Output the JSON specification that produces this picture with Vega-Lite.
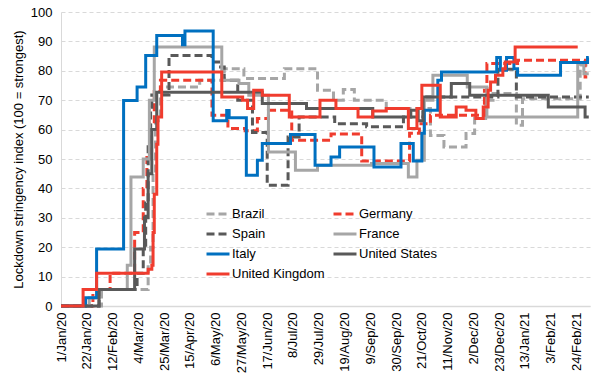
{
"$schema": "https://vega.github.io/schema/vega-lite/v6.json",
"width": 529, "height": 294,
"autosize": "none",
"padding": {"left": 61, "top": 12, "right": 10, "bottom": 85},
"background": "white",
"config": {"view": {"stroke": null}, "font": "Liberation Sans"},
"data": {"values": [
{"c":"Brazil","d":"2020-01-01","v":0},{"c":"Brazil","d":"2020-02-03","v":5.6},{"c":"Brazil","d":"2020-03-12","v":13.9},{"c":"Brazil","d":"2020-03-14","v":20},{"c":"Brazil","d":"2020-03-16","v":45},{"c":"Brazil","d":"2020-03-18","v":63},{"c":"Brazil","d":"2020-03-22","v":74.5},{"c":"Brazil","d":"2020-04-23","v":76.8},{"c":"Brazil","d":"2020-05-13","v":80.7},{"c":"Brazil","d":"2020-05-29","v":77.4},{"c":"Brazil","d":"2020-07-01","v":80.7},{"c":"Brazil","d":"2020-07-28","v":73.4},{"c":"Brazil","d":"2020-08-10","v":70},{"c":"Brazil","d":"2020-08-18","v":73.6},{"c":"Brazil","d":"2020-08-27","v":70},{"c":"Brazil","d":"2020-09-22","v":67.2},{"c":"Brazil","d":"2020-10-28","v":58},{"c":"Brazil","d":"2020-11-08","v":54.1},{"c":"Brazil","d":"2020-11-26","v":58.7},{"c":"Brazil","d":"2020-12-03","v":63.8},{"c":"Brazil","d":"2020-12-12","v":70},{"c":"Brazil","d":"2020-12-18","v":72.3},{"c":"Brazil","d":"2021-01-06","v":61.5},{"c":"Brazil","d":"2021-01-11","v":70.5},{"c":"Brazil","d":"2021-02-27","v":82},{"c":"Brazil","d":"2021-03-06","v":82},
{"c":"Germany","d":"2020-01-01","v":0},{"c":"Germany","d":"2020-01-27","v":5.6},{"c":"Germany","d":"2020-02-10","v":11.1},{"c":"Germany","d":"2020-03-01","v":25},{"c":"Germany","d":"2020-03-08","v":40},{"c":"Germany","d":"2020-03-11","v":52},{"c":"Germany","d":"2020-03-14","v":62},{"c":"Germany","d":"2020-03-17","v":73},{"c":"Germany","d":"2020-03-22","v":76.8},{"c":"Germany","d":"2020-05-03","v":64.9},{"c":"Germany","d":"2020-05-16","v":60.4},{"c":"Germany","d":"2020-05-30","v":59.6},{"c":"Germany","d":"2020-06-09","v":63.8},{"c":"Germany","d":"2020-06-18","v":66.6},{"c":"Germany","d":"2020-07-07","v":56.4},{"c":"Germany","d":"2020-08-08","v":58.5},{"c":"Germany","d":"2020-09-02","v":49.3},{"c":"Germany","d":"2020-10-11","v":58.8},{"c":"Germany","d":"2020-10-19","v":62},{"c":"Germany","d":"2020-10-28","v":64.9},{"c":"Germany","d":"2020-12-11","v":73.4},{"c":"Germany","d":"2020-12-13","v":82.5},{"c":"Germany","d":"2021-01-07","v":83.6},{"c":"Germany","d":"2021-03-03","v":77.9},{"c":"Germany","d":"2021-03-06","v":77.9},
{"c":"Spain","d":"2020-01-01","v":0},{"c":"Spain","d":"2020-02-01","v":5.6},{"c":"Spain","d":"2020-03-03","v":11.1},{"c":"Spain","d":"2020-03-08","v":20},{"c":"Spain","d":"2020-03-10","v":35},{"c":"Spain","d":"2020-03-12","v":55},{"c":"Spain","d":"2020-03-14","v":67.6},{"c":"Spain","d":"2020-03-15","v":71.8},{"c":"Spain","d":"2020-03-29","v":85.2},{"c":"Spain","d":"2020-05-03","v":83},{"c":"Spain","d":"2020-05-10","v":81.3},{"c":"Spain","d":"2020-05-13","v":76.8},{"c":"Spain","d":"2020-05-24","v":70},{"c":"Spain","d":"2020-06-05","v":59},{"c":"Spain","d":"2020-06-17","v":41.1},{"c":"Spain","d":"2020-07-04","v":57.5},{"c":"Spain","d":"2020-07-13","v":64.3},{"c":"Spain","d":"2020-08-11","v":62},{"c":"Spain","d":"2020-09-06","v":61},{"c":"Spain","d":"2020-10-06","v":64.3},{"c":"Spain","d":"2020-10-22","v":71.1},{"c":"Spain","d":"2020-12-22","v":80.5},{"c":"Spain","d":"2021-01-06","v":71.1},{"c":"Spain","d":"2021-03-06","v":71.1},
{"c":"France","d":"2020-01-01","v":0},{"c":"France","d":"2020-01-24","v":2.8},{"c":"France","d":"2020-02-01","v":5.6},{"c":"France","d":"2020-02-24","v":13.9},{"c":"France","d":"2020-02-27","v":43.9},{"c":"France","d":"2020-03-08","v":50},{"c":"France","d":"2020-03-13","v":70},{"c":"France","d":"2020-03-17","v":88.1},{"c":"France","d":"2020-05-11","v":76.8},{"c":"France","d":"2020-05-25","v":75.7},{"c":"France","d":"2020-06-02","v":71.7},{"c":"France","d":"2020-06-18","v":52.4},{"c":"France","d":"2020-07-10","v":46.2},{"c":"France","d":"2020-07-28","v":47.9},{"c":"France","d":"2020-09-10","v":48.5},{"c":"France","d":"2020-10-10","v":43.9},{"c":"France","d":"2020-10-17","v":49.6},{"c":"France","d":"2020-10-23","v":70},{"c":"France","d":"2020-10-30","v":78.5},{"c":"France","d":"2020-11-27","v":74.5},{"c":"France","d":"2020-12-13","v":64.3},{"c":"France","d":"2021-02-25","v":82.5},{"c":"France","d":"2021-03-02","v":79},{"c":"France","d":"2021-03-06","v":79},
{"c":"Italy","d":"2020-01-01","v":0},{"c":"Italy","d":"2020-01-21","v":2.8},{"c":"Italy","d":"2020-01-30","v":19.4},{"c":"Italy","d":"2020-02-21","v":69.9},{"c":"Italy","d":"2020-03-03","v":74.5},{"c":"Italy","d":"2020-03-10","v":85.2},{"c":"Italy","d":"2020-03-19","v":92},{"c":"Italy","d":"2020-04-09","v":88.9},{"c":"Italy","d":"2020-04-11","v":93.5},{"c":"Italy","d":"2020-05-04","v":63},{"c":"Italy","d":"2020-05-15","v":66.5},{"c":"Italy","d":"2020-05-17","v":64},{"c":"Italy","d":"2020-05-31","v":44.5},{"c":"Italy","d":"2020-06-09","v":49.6},{"c":"Italy","d":"2020-06-13","v":55.3},{"c":"Italy","d":"2020-07-06","v":58.3},{"c":"Italy","d":"2020-07-26","v":47.9},{"c":"Italy","d":"2020-08-08","v":50.7},{"c":"Italy","d":"2020-08-15","v":54.1},{"c":"Italy","d":"2020-09-12","v":47.3},{"c":"Italy","d":"2020-10-04","v":55.3},{"c":"Italy","d":"2020-10-14","v":49.3},{"c":"Italy","d":"2020-10-21","v":58.8},{"c":"Italy","d":"2020-10-23","v":66.6},{"c":"Italy","d":"2020-11-03","v":76.8},{"c":"Italy","d":"2020-11-06","v":79.6},{"c":"Italy","d":"2020-12-21","v":84.5},{"c":"Italy","d":"2020-12-24","v":80.2},{"c":"Italy","d":"2020-12-29","v":84.5},{"c":"Italy","d":"2021-01-04","v":80.7},{"c":"Italy","d":"2021-01-07","v":78.5},{"c":"Italy","d":"2021-02-11","v":82.8},{"c":"Italy","d":"2021-03-05","v":84.5},{"c":"Italy","d":"2021-03-06","v":84.5},
{"c":"United States","d":"2020-01-01","v":0},{"c":"United States","d":"2020-02-01","v":5.6},{"c":"United States","d":"2020-03-01","v":19.4},{"c":"United States","d":"2020-03-09","v":30},{"c":"United States","d":"2020-03-12","v":45},{"c":"United States","d":"2020-03-15","v":60},{"c":"United States","d":"2020-03-19","v":72.7},{"c":"United States","d":"2020-06-13","v":68.9},{"c":"United States","d":"2020-07-19","v":67.2},{"c":"United States","d":"2020-09-11","v":64.3},{"c":"United States","d":"2020-10-12","v":66.6},{"c":"United States","d":"2020-10-18","v":63},{"c":"United States","d":"2020-10-22","v":71.1},{"c":"United States","d":"2020-11-14","v":75.7},{"c":"United States","d":"2020-11-29","v":71.7},{"c":"United States","d":"2021-02-01","v":67.7},{"c":"United States","d":"2021-03-03","v":64.3},{"c":"United States","d":"2021-03-06","v":64.3},
{"c":"United Kingdom","d":"2020-01-01","v":0},{"c":"United Kingdom","d":"2020-01-19","v":5.6},{"c":"United Kingdom","d":"2020-01-30","v":11.1},{"c":"United Kingdom","d":"2020-03-12","v":12.5},{"c":"United Kingdom","d":"2020-03-15","v":13.9},{"c":"United Kingdom","d":"2020-03-16","v":25},{"c":"United Kingdom","d":"2020-03-17","v":38},{"c":"United Kingdom","d":"2020-03-19","v":55},{"c":"United Kingdom","d":"2020-03-20","v":64.3},{"c":"United Kingdom","d":"2020-03-23","v":79.6},{"c":"United Kingdom","d":"2020-05-11","v":71.1},{"c":"United Kingdom","d":"2020-05-28","v":70},{"c":"United Kingdom","d":"2020-06-01","v":67.2},{"c":"United Kingdom","d":"2020-06-06","v":73.4},{"c":"United Kingdom","d":"2020-06-13","v":71.7},{"c":"United Kingdom","d":"2020-07-05","v":64.3},{"c":"United Kingdom","d":"2020-07-30","v":70},{"c":"United Kingdom","d":"2020-08-12","v":67.2},{"c":"United Kingdom","d":"2020-08-30","v":64.3},{"c":"United Kingdom","d":"2020-09-11","v":66.3},{"c":"United Kingdom","d":"2020-09-22","v":67.2},{"c":"United Kingdom","d":"2020-10-10","v":60.4},{"c":"United Kingdom","d":"2020-10-17","v":67.2},{"c":"United Kingdom","d":"2020-10-21","v":75.1},{"c":"United Kingdom","d":"2020-11-05","v":64.3},{"c":"United Kingdom","d":"2020-11-18","v":67.7},{"c":"United Kingdom","d":"2020-11-26","v":66.6},{"c":"United Kingdom","d":"2020-12-04","v":63.8},{"c":"United Kingdom","d":"2020-12-10","v":67.7},{"c":"United Kingdom","d":"2020-12-14","v":73.4},{"c":"United Kingdom","d":"2020-12-16","v":76.2},{"c":"United Kingdom","d":"2020-12-20","v":78.5},{"c":"United Kingdom","d":"2020-12-26","v":80.7},{"c":"United Kingdom","d":"2020-12-28","v":83},{"c":"United Kingdom","d":"2021-01-05","v":88.1},{"c":"United Kingdom","d":"2021-02-25","v":88.1}
]},
"mark": {"type": "line", "interpolate": "step-after", "strokeWidth": 3},
"encoding": {
"x": {"field": "d", "type": "temporal",
 "scale": {"type": "utc", "domain": [{"year":2020,"month":1,"date":1,"utc":true},{"year":2021,"month":3,"date":7,"utc":true}]},
 "axis": {"title": null, "format": "%-d/%b/%y", "labelAngle": -90, "labelFontSize": 13, "labelColor": "#000000", "ticks": false, "grid": false, "domainColor": "#d9d9d9", "domainWidth": 1.5, "labelPadding": 6, "labelOverlap": false, "labelFlush": false,
  "values": [
   {"year":2020,"month":1,"date":1,"utc":true},{"year":2020,"month":1,"date":22,"utc":true},{"year":2020,"month":2,"date":12,"utc":true},{"year":2020,"month":3,"date":4,"utc":true},{"year":2020,"month":3,"date":25,"utc":true},{"year":2020,"month":4,"date":15,"utc":true},{"year":2020,"month":5,"date":6,"utc":true},{"year":2020,"month":5,"date":27,"utc":true},{"year":2020,"month":6,"date":17,"utc":true},{"year":2020,"month":7,"date":8,"utc":true},{"year":2020,"month":7,"date":29,"utc":true},{"year":2020,"month":8,"date":19,"utc":true},{"year":2020,"month":9,"date":9,"utc":true},{"year":2020,"month":9,"date":30,"utc":true},{"year":2020,"month":10,"date":21,"utc":true},{"year":2020,"month":11,"date":11,"utc":true},{"year":2020,"month":12,"date":2,"utc":true},{"year":2020,"month":12,"date":23,"utc":true},{"year":2021,"month":1,"date":13,"utc":true},{"year":2021,"month":2,"date":3,"utc":true},{"year":2021,"month":2,"date":24,"utc":true}]}},
"y": {"field": "v", "type": "quantitative",
 "scale": {"domain": [0, 100], "nice": false},
 "axis": {"title": "Lockdown stringency index (100 = strongest)", "titleFontSize": 13, "titleFontWeight": "normal", "titleColor": "#000000", "titlePadding": 5, "values": [0,10,20,30,40,50,60,70,80,90,100], "labelFontSize": 13, "labelColor": "#000000", "labelPadding": 9, "ticks": false, "gridDash": [4,3], "gridColor": "#d9d9d9", "domainColor": "#d9d9d9"}},
"color": {"field": "c", "type": "nominal",
 "scale": {"domain": ["Brazil","Spain","Italy","United Kingdom","Germany","France","United States"], "range": ["#a6a6a6","#595959","#0070c0","#f03c2e","#f03c2e","#a6a6a6","#595959"]},
 "legend": {"title": null, "orient": "none", "legendX": 144, "legendY": 189, "columns": 2, "symbolType": "stroke", "symbolSize": 529, "symbolStrokeWidth": 3, "labelFontSize": 13, "labelColor": "#000000", "labelOffset": 1, "rowPadding": -3, "columnPadding": 2}},
"strokeDash": {"field": "c", "type": "nominal",
 "scale": {"domain": ["Brazil","Spain","Italy","United Kingdom","Germany","France","United States"], "range": [[8,4],[8,4],[1,0],[1,0],[8,4],[1,0],[1,0]]},
 "legend": {"title": null, "orient": "none", "legendX": 144, "legendY": 189, "columns": 2, "symbolType": "stroke", "symbolSize": 529, "symbolStrokeWidth": 3, "labelFontSize": 13, "labelColor": "#000000", "labelOffset": 1, "rowPadding": -3, "columnPadding": 2}}
}
}
